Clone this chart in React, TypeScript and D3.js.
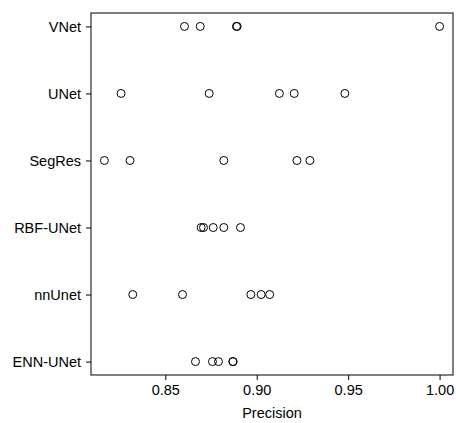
import React, { useEffect, useRef } from "react";
import * as d3 from "d3";

const models = ["VNet", "UNet", "SegRes", "RBF-UNet", "nnUnet", "ENN-UNet"];
const vnet = [0.8605, 0.8691, 0.8889, 0.8893, 1.0];
const unet = [0.8258, 0.874, 0.9124, 0.9205, 0.9482];
const segres = [0.8167, 0.8307, 0.882, 0.922, 0.9291];
const rbfUnet = [0.8696, 0.8709, 0.8762, 0.882, 0.8911];
const nnunet = [0.8322, 0.8594, 0.8968, 0.9024, 0.9071];
const ennUnet = [0.8665, 0.8758, 0.8791, 0.8869, 0.8871];
const xTicks = [0.85, 0.9, 0.95, 1.0];

const series = [vnet, unet, segres, rbfUnet, nnunet, ennUnet];

const App = () => {
  const ref = useRef<SVGSVGElement>(null);

  useEffect(() => {
    const width = 456, height = 423;
    const left = 91, right = 453, top = 13, bottom = 375;
    const font = "'Liberation Sans', Arial, Helvetica, sans-serif";
    const fs = 14.5;
    const svg = d3.select(ref.current).attr("width", width).attr("height", height);
    svg.selectAll("*").remove();

    const all = series.flat();
    const lo = d3.min(all)!, hi = d3.max(all)!;
    const pad = (hi - lo) * 0.04;
    const x = d3.scaleLinear().domain([lo - pad, hi + pad]).range([left, right]);
    const y = d3.scaleLinear().domain([-0.2, models.length - 0.8]).range([top, bottom]);

    // x axis
    const xa = svg.append("g").attr("transform", `translate(0,${bottom})`)
      .call(d3.axisBottom(x).tickValues(xTicks).tickFormat(d3.format(".2f")).tickSize(5).tickPadding(5));
    xa.select(".domain").remove();
    xa.selectAll("text").attr("font-family", font).attr("font-size", fs).attr("fill", "#000");
    xa.selectAll("line").attr("stroke", "#000");

    // y axis
    const ya = svg.append("g").attr("transform", `translate(${left},0)`)
      .call(d3.axisLeft(y).tickValues(d3.range(models.length)).tickFormat((i) => models[+i]).tickSize(5).tickPadding(5));
    ya.select(".domain").remove();
    ya.selectAll("text").attr("font-family", font).attr("font-size", fs).attr("fill", "#000");
    ya.selectAll("line").attr("stroke", "#000");

    // box
    svg.append("rect")
      .attr("x", left).attr("y", top)
      .attr("width", right - left).attr("height", bottom - top)
      .attr("fill", "none").attr("stroke", "#000").attr("stroke-width", 1);

    // points
    series.forEach((vals, i) => {
      svg.append("g").selectAll("circle")
        .data(vals)
        .enter()
        .append("circle")
        .attr("cx", (d) => x(d))
        .attr("cy", y(i))
        .attr("r", 4)
        .attr("fill", "none")
        .attr("stroke", "#000")
        .attr("stroke-width", 1);
    });

    svg.append("text")
      .attr("x", (left + right) / 2)
      .attr("y", 418)
      .attr("text-anchor", "middle")
      .attr("font-family", font)
      .attr("font-size", fs)
      .text("Precision");
  }, []);

  return <svg ref={ref} style={{ position: "absolute", left: 0, top: 0 }}></svg>;
};

export default App;
